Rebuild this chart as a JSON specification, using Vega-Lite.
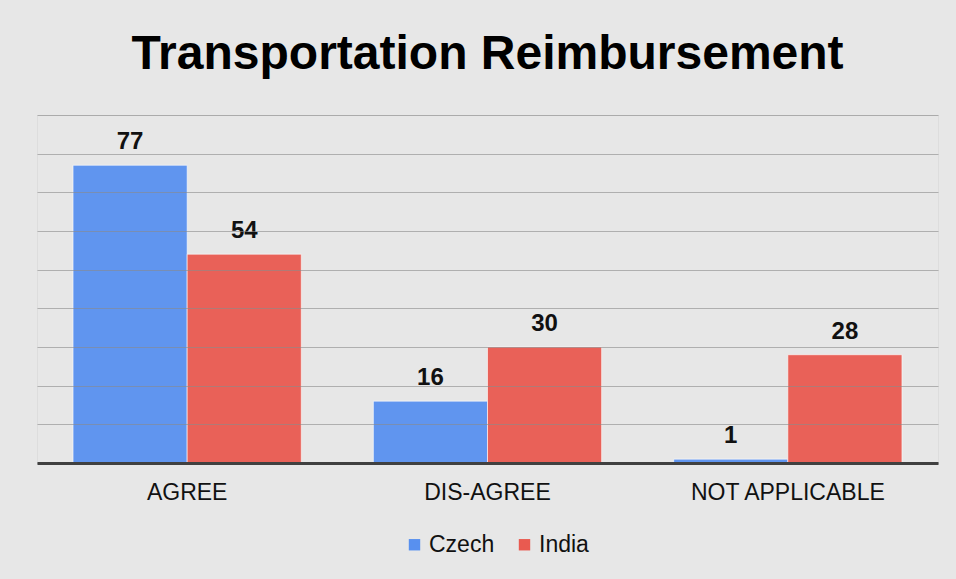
{
  "$schema": "https://vega.github.io/schema/vega-lite/v6.json",
  "width": 901,
  "height": 348,
  "autosize": {"type": "none"},
  "padding": {"left": 37, "top": 115, "right": 18, "bottom": 116},
  "background": "#e7e7e7",
  "title": {"text": "Transportation Reimbursement", "fontSize": 48, "font": "Liberation Sans", "fontWeight": "bold", "color": "#000000", "anchor": "middle", "offset": 36},
  "data": {"values": [
    {"response": "AGREE", "country": "Czech", "count": 77},
    {"response": "AGREE", "country": "India", "count": 54},
    {"response": "DIS-AGREE", "country": "Czech", "count": 16},
    {"response": "DIS-AGREE", "country": "India", "count": 30},
    {"response": "NOT APPLICABLE", "country": "Czech", "count": 1},
    {"response": "NOT APPLICABLE", "country": "India", "count": 28}
  ]},
  "encoding": {
    "x": {"field": "response", "type": "nominal", "sort": ["AGREE", "DIS-AGREE", "NOT APPLICABLE"],
      "scale": {"paddingInner": 0.24, "paddingOuter": 0.12},
      "axis": {"title": null, "labelAngle": 0, "labelFontSize": 23, "labelLimit": 0, "labelFont": "Liberation Sans", "labelColor": "#111111", "ticks": false, "domainColor": "#404040", "domainWidth": 3, "labelPadding": 18, "zindex": 1}},
    "xOffset": {"field": "country", "sort": ["Czech", "India"]},
    "y": {"field": "count", "type": "quantitative", "scale": {"domain": [0, 90]},
      "axis": {"title": null, "labels": false, "ticks": false, "domain": false, "values": [0, 10, 20, 30, 40, 50, 60, 70, 80, 90], "gridColor": "#8a8a8a", "gridOpacity": 0.6, "gridWidth": 1, "zindex": 1}}
  },
  "layer": [
    {"mark": {"type": "bar", "stroke": "#ffffff", "strokeWidth": 1, "strokeOpacity": 0.6, "fillOpacity": 0.95},
     "encoding": {
       "color": {"field": "country", "type": "nominal", "sort": ["Czech", "India"],
         "scale": {"domain": ["Czech", "India"], "range": ["#5890ef", "#e95a50"]},
         "legend": {"title": null, "orient": "none", "legendX": 366, "legendY": 418, "padding": 0, "direction": "horizontal", "symbolType": "square", "symbolSize": 130, "symbolStrokeWidth": 0, "labelFontSize": 23, "labelFont": "Liberation Sans", "labelColor": "#111111", "columnPadding": 18, "labelOffset": 3}}
     }},
    {"mark": {"type": "text", "fontSize": 24, "fontWeight": "bold", "font": "Liberation Sans", "color": "#111111", "baseline": "alphabetic", "dy": -16},
     "encoding": {"text": {"field": "count", "type": "quantitative"}}}
  ]
}
